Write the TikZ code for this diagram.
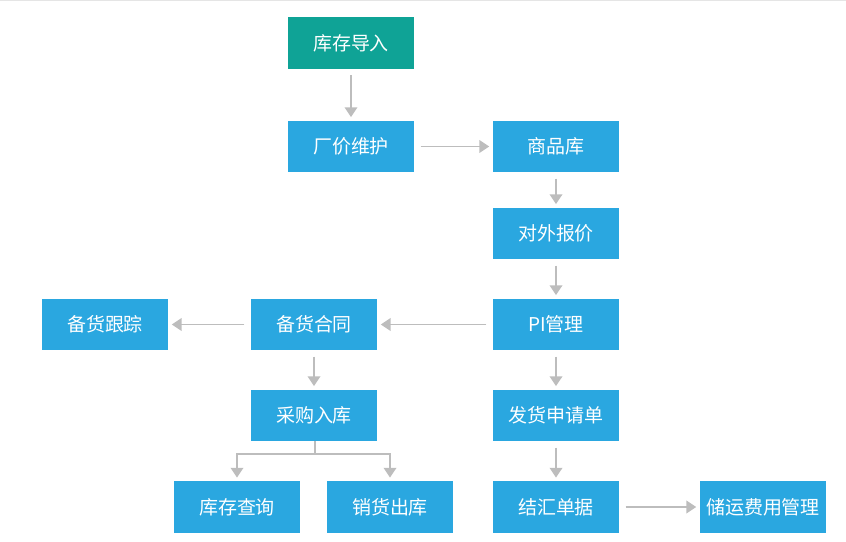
\documentclass[tikz,border=0pt]{standalone}
\usepackage{fontspec}
\setmainfont{Noto Sans CJK SC}
\usetikzlibrary{arrows.meta}
\definecolor{boxblue}{HTML}{2AA7E0}
\definecolor{boxteal}{HTML}{0FA396}
\definecolor{linegray}{HTML}{BDBDBD}
\tikzset{
  stage/.style={fill=boxblue, text=white, minimum width=3.15cm, minimum height=1.28cm,
    inner sep=0pt, font=\fontsize{13.5}{16}\selectfont},
  flow/.style={draw=linegray, line width=1.3pt, -{Triangle[width=9pt,length=7pt]},
    shorten <=4.5pt, shorten >=2.5pt},
}
\begin{document}
\begin{tikzpicture}[x=0.025cm, y=-0.025cm]
  \useasboundingbox (0,0) rectangle (846,541);
  \draw[color=gray!20, line width=1.2pt] (0,0.5) -- (846,0.5);
  % nodes
  \node[stage, fill=boxteal] (import) at (351,43) {库存导入};
  \node[stage] (factory) at (351,146.5) {厂价维护};
  \node[stage] (goods) at (556,146.5) {商品库};
  \node[stage] (quote) at (556,233.5) {对外报价};
  \node[stage] (pi) at (556,324.5) {PI管理};
  \node[stage] (contract) at (314,324.5) {备货合同};
  \node[stage] (track) at (105,324.5) {备货跟踪};
  \node[stage] (purchase) at (314,415.5) {采购入库};
  \node[stage] (ship) at (556,415.5) {发货申请单};
  \node[stage] (query) at (237,507) {库存查询};
  \node[stage] (sales) at (390,507) {销货出库};
  \node[stage] (settle) at (556,507) {结汇单据};
  \node[stage] (freight) at (763,507) {储运费用管理};
  % arrows
  \draw[flow] (import) -- (factory);
  \draw[flow] (factory) -- (goods);
  \draw[flow] (goods) -- (quote);
  \draw[flow] (quote) -- (pi);
  \draw[flow] (pi) -- (contract);
  \draw[flow] (contract) -- (track);
  \draw[flow] (contract) -- (purchase);
  \draw[flow] (pi) -- (ship);
  \draw[flow] (ship) -- (settle);
  \draw[flow] (settle) -- (freight);
  \coordinate (split) at (315,454);
  \draw[draw=linegray, line width=1.3pt] (purchase.south -| split) -- (split);
  \draw[flow, shorten <=0pt] (split) -| (query);
  \draw[flow, shorten <=0pt] (split) -| (sales);
\end{tikzpicture}
\end{document}
